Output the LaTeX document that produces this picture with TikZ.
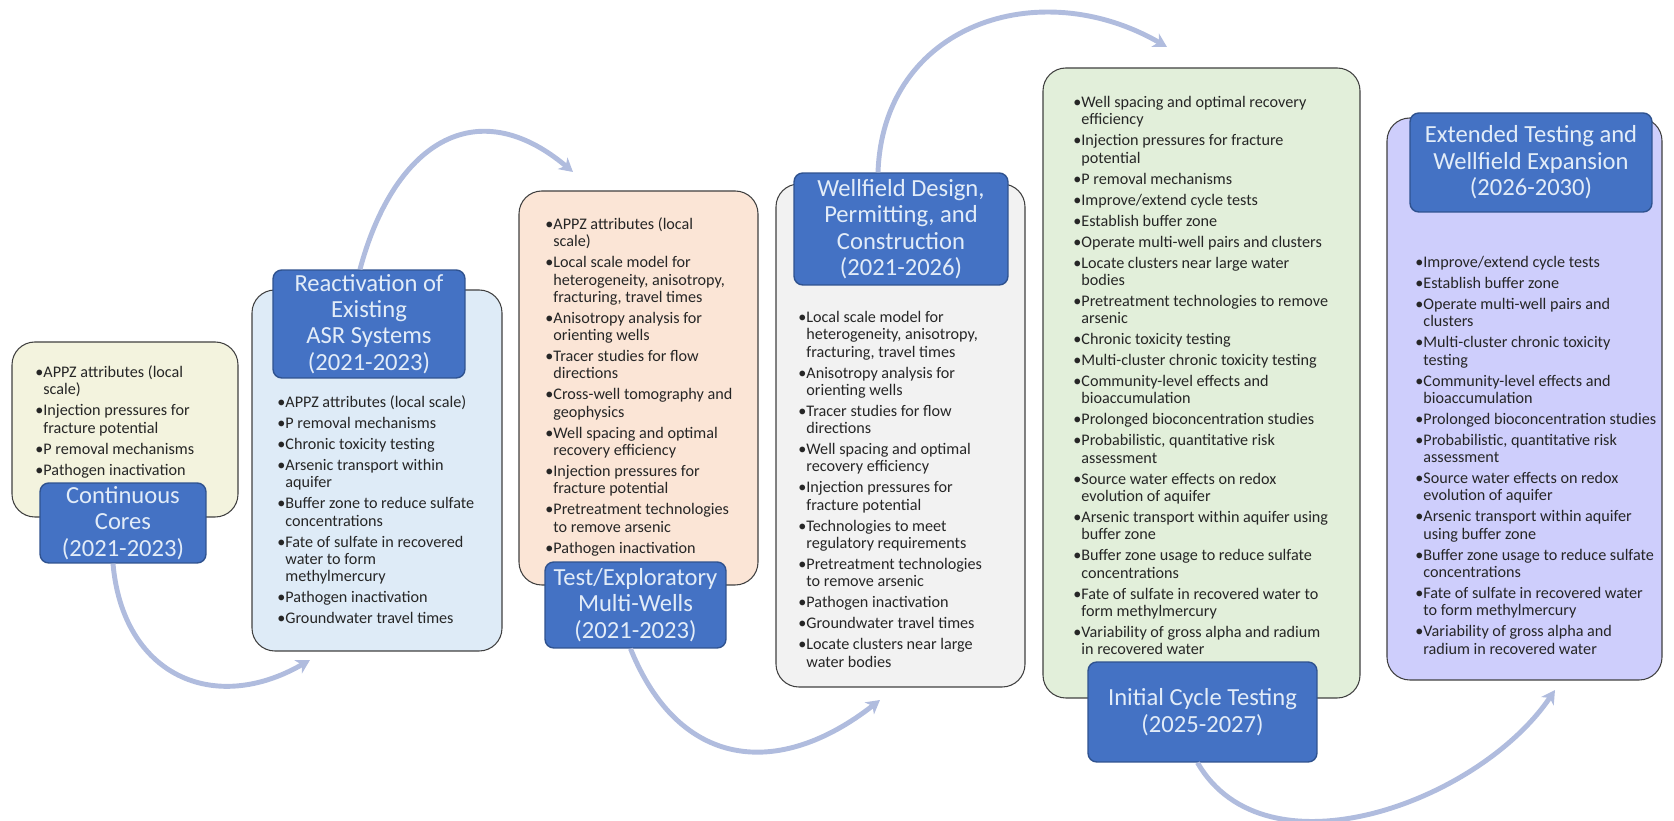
\documentclass[tikz,border=0pt]{standalone}
\usepackage{fontspec}
\setmainfont{Carlito}
\usetikzlibrary{arrows.meta,positioning,fit}
\definecolor{edge}{RGB}{64,64,64}
\definecolor{navy}{RGB}{47,82,143}
\definecolor{phase}{RGB}{68,114,196}
\definecolor{phasetext}{RGB}{226,236,248}
\definecolor{flowc}{RGB}{176,188,222}
\definecolor{ink}{RGB}{38,38,38}
\definecolor{cream}{RGB}{243,243,222}
\definecolor{sky}{RGB}{222,235,247}
\definecolor{peach}{RGB}{251,229,214}
\definecolor{ash}{RGB}{242,242,242}
\definecolor{sage}{RGB}{226,239,218}
\definecolor{lilac}{RGB}{206,206,252}
\tikzset{
  panel/.style={draw=edge,inner sep=0pt,rounded corners=13pt,line width=0.6pt},
  phasebox/.style={draw=navy,fill=phase,inner sep=0pt,rounded corners=5pt,line width=0.8pt,
    text=phasetext,align=center,font=\fontsize{14}{15}\selectfont},
  items/.style={anchor=north west,inner sep=0pt,text=ink,font=\fontsize{9.2}{9.85}\selectfont},
  flow/.style={draw=flowc,line width=2.8pt,-{Stealth[length=2.7mm,width=3mm,inset=0.8mm]}},
}
\newcommand{\gap}{\\[2.1pt]}

\begin{document}
\begin{tikzpicture}[x=0.02cm,y=0.02cm]
  \useasboundingbox (0,0) rectangle (1674,821);

  % content panels
  \node[panel,fill=cream,fit={(12,479)(238,304)}] (p1) {};
  \node[panel,fill=sky,fit={(252,531)(502,170)}] (p2) {};
  \node[panel,fill=peach,fit={(519,630)(758,236)}] (p3) {};
  \node[panel,fill=ash,fit={(776,637)(1025,134)}] (p4) {};
  \node[panel,fill=sage,fit={(1043,753)(1360,123)}] (p5) {};
  \node[panel,fill=lilac,fit={(1387,703)(1662,141)}] (p6) {};

  % phase titles
  \node[phasebox,minimum width=3.32cm,minimum height=1.6cm] (t1) at (123,298)
    {Continuous\\Cores\\(2021-2023)};
  \node[phasebox,minimum width=3.84cm,minimum height=2.16cm] (t2) at (369,497)
    {Reactivation of\\Existing\\ASR Systems\\(2021-2023)};
  \node[phasebox,minimum width=3.62cm,minimum height=1.72cm] (t3) at (635.5,216)
    {Test/Exploratory\\Multi-Wells\\(2021-2023)};
  \node[phasebox,minimum width=4.28cm,minimum height=2.24cm] (t4) at (901,592)
    {Wellfield Design,\\Permitting, and\\Construction\\(2021-2026)};
  \node[phasebox,minimum width=4.58cm,minimum height=2cm] (t5) at (1202.5,109)
    {Initial Cycle Testing\\(2025-2027)};
  \node[phasebox,minimum width=4.84cm,minimum height=1.98cm] (t6) at (1531,658.5)
    {Extended Testing and\\Wellfield Expansion\\(2026-2030)};

  % bullet lists
  \node[items] (l1) at (35,456) {\begin{tabular}{@{}l@{}l@{}}
    \textbullet & APPZ attributes (local\\ & scale)\gap
    \textbullet & Injection pressures for\\ & fracture potential\gap
    \textbullet & P removal mechanisms\gap
    \textbullet & Pathogen inactivation
  \end{tabular}};
  \node[items] (l2) at (277,426) {\begin{tabular}{@{}l@{}l@{}}
    \textbullet & APPZ attributes (local scale)\gap
    \textbullet & P removal mechanisms\gap
    \textbullet & Chronic toxicity testing\gap
    \textbullet & Arsenic transport within\\ & aquifer\gap
    \textbullet & Buffer zone to reduce sulfate\\ & concentrations\gap
    \textbullet & Fate of sulfate in recovered\\ & water to form\\ & methylmercury\gap
    \textbullet & Pathogen inactivation\gap
    \textbullet & Groundwater travel times
  \end{tabular}};
  \node[items] (l3) at (545,604) {\begin{tabular}{@{}l@{}l@{}}
    \textbullet & APPZ attributes (local\\ & scale)\gap
    \textbullet & Local scale model for\\ & heterogeneity, anisotropy,\\ & fracturing, travel times\gap
    \textbullet & Anisotropy analysis for\\ & orienting wells\gap
    \textbullet & Tracer studies for flow\\ & directions\gap
    \textbullet & Cross-well tomography and\\ & geophysics\gap
    \textbullet & Well spacing and optimal\\ & recovery efficiency\gap
    \textbullet & Injection pressures for\\ & fracture potential\gap
    \textbullet & Pretreatment technologies\\ & to remove arsenic\gap
    \textbullet & Pathogen inactivation
  \end{tabular}};
  \node[items] (l4) at (798,511) {\begin{tabular}{@{}l@{}l@{}}
    \textbullet & Local scale model for\\ & heterogeneity, anisotropy,\\ & fracturing, travel times\gap
    \textbullet & Anisotropy analysis for\\ & orienting wells\gap
    \textbullet & Tracer studies for flow\\ & directions\gap
    \textbullet & Well spacing and optimal\\ & recovery efficiency\gap
    \textbullet & Injection pressures for\\ & fracture potential\gap
    \textbullet & Technologies to meet\\ & regulatory requirements\gap
    \textbullet & Pretreatment technologies\\ & to remove arsenic\gap
    \textbullet & Pathogen inactivation\gap
    \textbullet & Groundwater travel times\gap
    \textbullet & Locate clusters near large\\ & water bodies
  \end{tabular}};
  \node[items] (l5) at (1073,726) {\begin{tabular}{@{}l@{}l@{}}
    \textbullet & Well spacing and optimal recovery\\ & efficiency\gap
    \textbullet & Injection pressures for fracture\\ & potential\gap
    \textbullet & P removal mechanisms\gap
    \textbullet & Improve/extend cycle tests\gap
    \textbullet & Establish buffer zone\gap
    \textbullet & Operate multi-well pairs and clusters\gap
    \textbullet & Locate clusters near large water\\ & bodies\gap
    \textbullet & Pretreatment technologies to remove\\ & arsenic\gap
    \textbullet & Chronic toxicity testing\gap
    \textbullet & Multi-cluster chronic toxicity testing\gap
    \textbullet & Community-level effects and\\ & bioaccumulation\gap
    \textbullet & Prolonged bioconcentration studies\gap
    \textbullet & Probabilistic, quantitative risk\\ & assessment\gap
    \textbullet & Source water effects on redox\\ & evolution of aquifer\gap
    \textbullet & Arsenic transport within aquifer using\\ & buffer zone\gap
    \textbullet & Buffer zone usage to reduce sulfate\\ & concentrations\gap
    \textbullet & Fate of sulfate in recovered water to\\ & form methylmercury\gap
    \textbullet & Variability of gross alpha and radium\\ & in recovered water
  \end{tabular}};
  \node[items] (l6) at (1415,566) {\begin{tabular}{@{}l@{}l@{}}
    \textbullet & Improve/extend cycle tests\gap
    \textbullet & Establish buffer zone\gap
    \textbullet & Operate multi-well pairs and\\ & clusters\gap
    \textbullet & Multi-cluster chronic toxicity\\ & testing\gap
    \textbullet & Community-level effects and\\ & bioaccumulation\gap
    \textbullet & Prolonged bioconcentration studies\gap
    \textbullet & Probabilistic, quantitative risk\\ & assessment\gap
    \textbullet & Source water effects on redox\\ & evolution of aquifer\gap
    \textbullet & Arsenic transport within aquifer\\ & using buffer zone\gap
    \textbullet & Buffer zone usage to reduce sulfate\\ & concentrations\gap
    \textbullet & Fate of sulfate in recovered water\\ & to form methylmercury\gap
    \textbullet & Variability of gross alpha and\\ & radium in recovered water
  \end{tabular}};

  % arrow tips just outside the next panel
  \coordinate (e1) at (310,161);
  \coordinate (e2) at (573,649);
  \coordinate (e3) at (880,121);
  \coordinate (e4) at (1167,774);
  \coordinate (e5) at (1555,131);

  \draw[flow] ([xshift=-0.2cm]t1.south) to[out=-85,in=210,looseness=1.3] (e1);
  \draw[flow] ([xshift=-0.18cm]t2.north) to[out=75,in=140,looseness=1.4] (e2);
  \draw[flow] ([xshift=-0.1cm]t3.south) to[out=-68,in=218,looseness=1.3] (e3);
  \draw[flow] ([xshift=-0.46cm]t4.north) to[out=88,in=150,looseness=1.2] (e4);
  \draw[flow] ([xshift=-0.1cm]t5.south) to[out=-60,in=236,looseness=0.95] (e5);
\end{tikzpicture}
\end{document}
